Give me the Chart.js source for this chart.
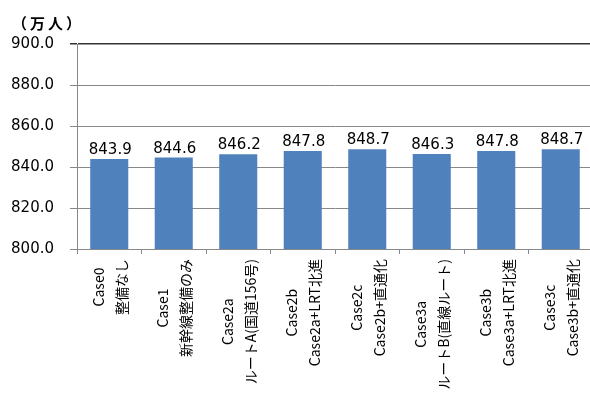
<!DOCTYPE html>
<html>
<head>
<meta charset="utf-8">
<script src="https://cdn.jsdelivr.net/npm/chart.js@4"></script>
<style>
  html, body { margin: 0; padding: 0; background: #fff; overflow: hidden; }
  #wrap { width: 594px; height: 394px; }
</style>
</head>
<body>
<div id="wrap"><canvas id="chart" width="594" height="394"></canvas></div>
<script>
// 各ケースの人口（万人）
const caseNames = ["Case0", "Case1", "Case2a", "Case2b", "Case2c", "Case3a", "Case3b", "Case3c"];
const caseDesc = ["整備なし", "新幹線整備のみ", "ルートA(国道156号)", "Case2a+LRT北進",
  "Case2b+直通化", "ルートB(直線ルート)", "Case3a+LRT北進", "Case3b+直通化"];
const population = [843.9, 844.6, 846.2, 847.8, 848.7, 846.3, 847.8, 848.7];
const yTicks = [800, 820, 840, 860, 880, 900];

const labelFont = "15px 'DejaVu Sans'";
const jpFont = "14px 'Noto Sans CJK JP'";

// 棒の上に数値を表示
const valueLabels = {
  id: "valueLabels",
  afterDatasetsDraw(chart) {
    const ctx = chart.ctx;
    const meta = chart.getDatasetMeta(0);
    ctx.save();
    ctx.font = labelFont;
    ctx.fillStyle = "#000";
    ctx.textAlign = "center";
    ctx.textBaseline = "alphabetic";
    meta.data.forEach((bar, i) => {
      ctx.fillText(population[i].toFixed(1), bar.x + 1, bar.y - 5);
    });
    ctx.restore();
  }
};

// 縦書き（-90度回転）の2行ラベルと単位
const axisText = {
  id: "axisText",
  afterDraw(chart) {
    const ctx = chart.ctx;
    const x = chart.scales.x;
    const top = chart.chartArea.bottom + 10;
    ctx.save();
    ctx.font = jpFont;
    ctx.fillStyle = "#000";
    ctx.textAlign = "center";
    ctx.textBaseline = "middle";
    caseNames.forEach((name, i) => {
      const lines = [name, caseDesc[i]];
      const w = Math.max(...lines.map(l => ctx.measureText(l).width));
      const cx = x.getPixelForValue(i);
      ctx.save();
      ctx.translate(cx, top);
      ctx.rotate(-Math.PI / 2);
      ctx.fillText(lines[0], -w / 2, -11);
      ctx.fillText(lines[1], -w / 2, 12);
      ctx.restore();
    });
    ctx.font = "bold 15px 'Noto Sans CJK JP'";
    ctx.textAlign = "left";
    ctx.letterSpacing = "3px";
    ctx.fillText("（万人）", 12, 23);
    ctx.restore();
  }
};

new Chart(document.getElementById("chart"), {
  type: "bar",
  data: {
    labels: caseNames,
    datasets: [{
      data: population,
      backgroundColor: "#4F81BD",
      barPercentage: 0.59,
      categoryPercentage: 1
    }]
  },
  options: {
    responsive: false,
    animation: false,
    devicePixelRatio: 1,
    layout: { padding: { top: 44, left: 0, right: 1, bottom: 0 } },
    plugins: { legend: { display: false }, tooltip: { enabled: false } },
    scales: {
      x: {
        ticks: { display: false },
        grid: { offset: true, drawOnChartArea: false, tickLength: 5, color: "#888" },
        border: { color: "#888" },
        afterFit(scale) { scale.height = 145; }
      },
      y: {
        min: 800,
        max: 900,
        afterBuildTicks(scale) { scale.ticks = yTicks.map(v => ({ value: v })); },
        ticks: {
          font: { family: "DejaVu Sans", size: 15 },
          color: "#000",
          padding: 16,
          callback: v => v.toFixed(1)
        },
        grid: {
          tickLength: 7,
          color: ctx => (ctx.tick && ctx.tick.value === 900 ? "#333" : "#888"),
          lineWidth: ctx => (ctx.tick && ctx.tick.value === 900 ? 1.5 : 1)
        },
        border: { color: "#888" },
        afterFit(scale) { scale.width = 77; }
      }
    }
  },
  plugins: [valueLabels, axisText]
});
</script>
</body>
</html>
